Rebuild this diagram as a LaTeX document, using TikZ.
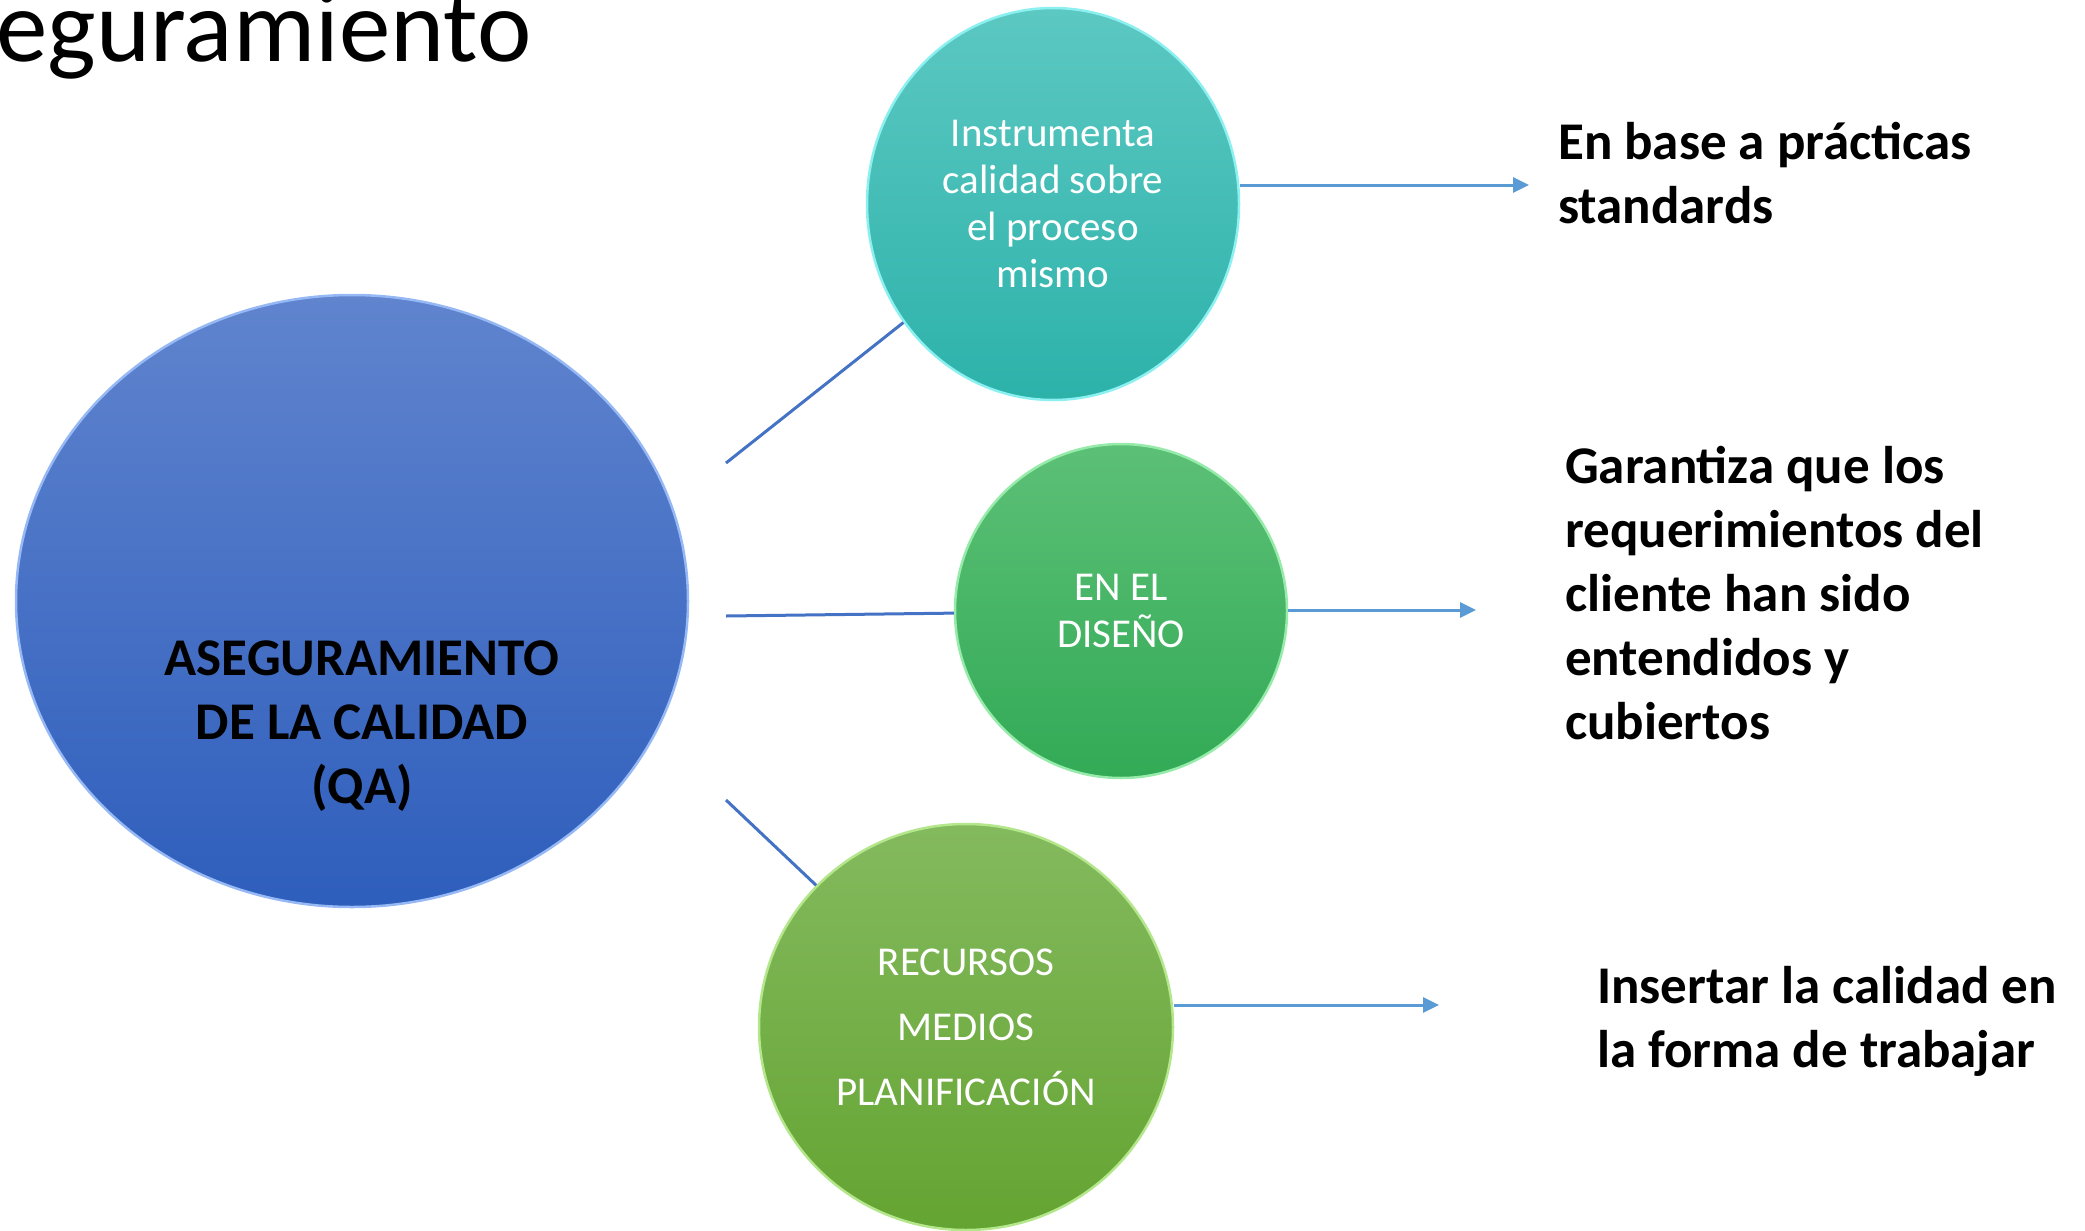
\documentclass[tikz,border=0pt]{standalone}
\usepackage{fontspec}
\setmainfont{Carlito}
\usetikzlibrary{shapes.geometric,arrows.meta}
\definecolor{qaTop}{RGB}{96,132,206}
\definecolor{qaBot}{RGB}{46,94,188}
\definecolor{qaRim}{RGB}{150,185,245}
\definecolor{tlTop}{RGB}{92,200,194}
\definecolor{tlBot}{RGB}{44,178,170}
\definecolor{tlRim}{RGB}{140,240,240}
\definecolor{gmTop}{RGB}{92,192,118}
\definecolor{gmBot}{RGB}{50,170,86}
\definecolor{gmRim}{RGB}{150,235,170}
\definecolor{glTop}{RGB}{132,186,94}
\definecolor{glBot}{RGB}{100,164,50}
\definecolor{glRim}{RGB}{180,230,140}
\definecolor{linkBlue}{RGB}{68,114,196}
\definecolor{arrBlue}{RGB}{91,155,213}
\begin{document}
\begin{tikzpicture}[x=1pt,y=-1pt,
  bubble/.style={ellipse, inner sep=0pt, line width=2.5pt, text=white, align=center},
  link/.style={linkBlue, line width=3pt},
  arr/.style={arrBlue, line width=3pt, -{Triangle[length=16pt,width=15pt]}},
  note/.style={anchor=west, inner sep=0pt, align=left, font=\fontsize{53}{64}\selectfont\bfseries}
]
\useasboundingbox (0,0) rectangle (2085,1231);

\node[anchor=base west, inner sep=0pt, font=\fontsize{103}{120}\selectfont] (title) at (-4,62) {eguramiento};

\coordinate (c1) at (726,463);
\coordinate (c2) at (726,616);
\coordinate (c3) at (726,800);

\node[bubble, minimum width=672pt, minimum height=612pt, top color=qaTop, bottom color=qaBot, draw=qaRim] (qa) at (352,601) {};
\node[inner sep=0pt, align=center, font=\fontsize{53}{64}\selectfont\bfseries] (qatext) at (362,726) {ASEGURAMIENTO\\DE LA CALIDAD\\(QA)};

\node[bubble, minimum width=372pt, minimum height=392pt, top color=tlTop, bottom color=tlBot, draw=tlRim, font=\fontsize{41}{47}\selectfont] (proc) at (1053,204) {Instrumenta\\calidad sobre\\el proceso\\mismo};
\node[bubble, minimum width=332pt, minimum height=334pt, top color=gmTop, bottom color=gmBot, draw=gmRim, font=\fontsize{41}{47}\selectfont] (dis) at (1121,611) {EN EL\\DISEÑO};
\node[bubble, minimum width=414pt, minimum height=406pt, top color=glTop, bottom color=glBot, draw=glRim, font=\fontsize{41}{65}\selectfont] (rec) at (966,1027) {RECURSOS\\MEDIOS\\PLANIFICACIÓN};

\draw[link] (c1) -- (proc);
\draw[link] (c2) -- (dis);
\draw[link] (c3) -- (rec);

\coordinate (t1) at (1529,185);
\coordinate (t2) at (1476,610);
\coordinate (t3) at (1439,1005);
\draw[arr] (proc.east |- t1) -- (t1);
\draw[arr] (dis.east |- t2) -- (t2);
\draw[arr] (rec.east |- t3) -- (t3);

\node[note] (n1) at (1558,173) {En base a prácticas\\standards};
\node[note] (n2) at (1565,593) {Garantiza que los\\requerimientos del\\cliente han sido\\entendidos y\\cubiertos};
\node[note] (n3) at (1597,1021) {Insertar la calidad en\\la forma de trabajar};
\end{tikzpicture}
\end{document}
